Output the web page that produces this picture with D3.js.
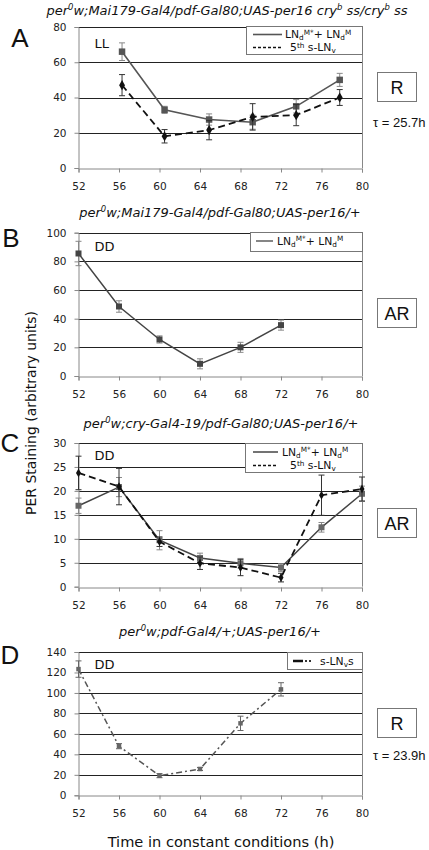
<!DOCTYPE html>
<html><head><meta charset="utf-8">
<script src="https://cdn.jsdelivr.net/npm/d3@7"></script>
<style>
body{margin:0;background:#fff;}
svg{display:block;}
</style></head>
<body>
<svg id="fig" width="429" height="850"></svg>
<script>
// ---------- DATA ----------
const xTickValues = [52, 56, 60, 64, 68, 72, 76, 80];

// Panel A (LL)
const aTimes = [56.3, 60.5, 64.9, 69.2, 73.5, 77.8];
const aLNd = [66, 33, 27.5, 26, 35, 50];
const aLNdErr = [5, 2, 3.2, 4, 3.8, 3.7];
const aSLNv = [47, 18, 21.5, 29, 30, 40];
const aSLNvErr = [6, 3.8, 5.5, 7.5, 6, 4.5];
const aYTicks = [0, 20, 40, 60, 80];

// Panel B (DD)
const bTimes = [52, 56, 60, 64, 68, 72];
const bLNd = [85.5, 48.5, 25.5, 8.5, 20, 35.5];
const bLNdErr = [8.5, 4, 2.5, 3.5, 3.5, 3.5];
const bYTicks = [0, 20, 40, 60, 80, 100];

// Panel C (DD)
const cTimes = [52, 56, 60, 64, 68, 72, 76, 80];
const cLNd = [16.9, 20.8, 9.7, 6.0, 4.9, 4.0, 12.4, 19.4];
const cLNdErr = [1.6, 2, 2, 1, 1, 0.8, 1, 1.6];
const cSLNv = [23.75, 20.9, 9.4, 4.9, 4.0, 1.9, 19.1, 20.4];
const cSLNvErr = [3.5, 3.8, 1, 1.3, 1.7, 0.9, 4.2, 2.5];
const cYTicks = [0, 5, 10, 15, 20, 25, 30];

// Panel D (DD)
const dTimes = [52, 56, 60, 64, 68, 72];
const dSLNvs = [123.3, 48, 19.2, 25.7, 70.3, 103.5];
const dSLNvsErr = [8, 2.5, 2, 1.5, 7, 6.5];
const dYTicks = [0, 20, 40, 60, 80, 100, 120, 140];

// Text
const titleA = ["per", "0", "w;Mai179-Gal4/pdf-Gal80;UAS-per16 cry", "b", " ss/cry", "b", " ss"];
const titleB = ["per", "0", "w;Mai179-Gal4/pdf-Gal80;UAS-per16/+"];
const titleC = ["per", "0", "w;cry-Gal4-19/pdf-Gal80;UAS-per16/+"];
const titleD = ["per", "0", "w;pdf-Gal4/+;UAS-per16/+"];

// ---------- DRAWING ----------
const svg = d3.select("#fig");
const LEFT = 78.5, RIGHT = 362;
const FONT = "'DejaVu Sans', Verdana, sans-serif";
const ARIAL = "'Liberation Sans', Arial, sans-serif";

function richText(g, parts, x, y, size, anchor) {
  const t = g.append("text").attr("x", x).attr("y", y)
    .attr("font-family", FONT).attr("font-style", "italic")
    .attr("font-size", size).attr("text-anchor", anchor).attr("fill", "#111");
  parts.forEach((p, i) => {
    const sup = i % 2 === 1;
    t.append("tspan").text(p)
      .attr("font-size", sup ? size * 0.65 : size)
      .attr("dy", sup ? -size * 0.35 : (i > 0 ? size * 0.35 : 0));
  });
}

function legendLabel(g, x, y, kind) {
  const t = g.append("text").attr("x", x).attr("y", y)
    .attr("font-family", FONT).attr("font-size", 10.8).attr("fill", "#111");
  const s = 7.3;
  if (kind === "lnd") {
    t.append("tspan").text("LN");
    t.append("tspan").text("d").attr("font-size", s).attr("dy", 2);
    t.append("tspan").text("M*").attr("font-size", s).attr("dy", -5.5);
    t.append("tspan").text("+ LN").attr("dy", 3.5);
    t.append("tspan").text("d").attr("font-size", s).attr("dy", 2);
    t.append("tspan").text("M").attr("font-size", s).attr("dy", -5.5);
  } else if (kind === "slnv") {
    t.append("tspan").text("5");
    t.append("tspan").text("th").attr("font-size", s).attr("dy", -3.5);
    t.append("tspan").text(" s-LN").attr("dy", 3.5);
    t.append("tspan").text("v").attr("font-size", s).attr("dy", 2);
  } else {
    t.append("tspan").text("s-LN");
    t.append("tspan").text("v").attr("font-size", s).attr("dy", 2);
    t.append("tspan").text("s").attr("dy", -2);
  }
}

function panel(cfg) {
  const g = svg.append("g");
  const x = d3.scaleLinear().domain([52, 80]).range([LEFT, RIGHT]);
  const y = d3.scaleLinear().domain([0, cfg.yMax]).range([cfg.bottom, cfg.top]);

  // gridlines
  g.append("g").selectAll("line").data(cfg.yTicks.filter(v => v > 0)).join("line")
    .attr("x1", LEFT).attr("x2", RIGHT)
    .attr("y1", d => Math.round(y(d)) + 0.5).attr("y2", d => Math.round(y(d)) + 0.5)
    .attr("stroke", "#222").attr("stroke-width", 1);
  // right border
  g.append("line").attr("x1", RIGHT + 0.5).attr("x2", RIGHT + 0.5)
    .attr("y1", y(cfg.yMax)).attr("y2", cfg.bottom).attr("stroke", "#888");

  // axes
  const yAxis = d3.axisLeft(y).tickValues(cfg.yTicks).tickSize(4).tickPadding(8).tickFormat(d3.format("d"));
  const ya = g.append("g").attr("transform", `translate(${LEFT},0)`).call(yAxis);
  const xAxis = d3.axisBottom(x).tickValues(xTickValues).tickSize(4).tickPadding(10).tickFormat(d3.format("d"));
  const xa = g.append("g").attr("transform", `translate(0,${Math.round(cfg.bottom) + 0.5})`).call(xAxis);
  [ya, xa].forEach(a => {
    a.selectAll(".domain").attr("stroke", "#888");
    a.selectAll(".tick line").attr("stroke", "#888");
    a.selectAll("text").attr("font-family", FONT).attr("font-size", 10.5).attr("fill", "#222");
  });

  // condition label
  g.append("text").attr("x", LEFT + 16).attr("y", y(cfg.yMax) + cfg.condDy)
    .attr("font-family", FONT).attr("font-size", 13).attr("fill", "#111").text(cfg.cond);

  // series
  cfg.series.forEach(s => {
    const pts = s.times.map((t, i) => ({ t, v: s.values[i], e: s.errs[i] }));
    const eb = g.append("g").attr("stroke", s.errColor).attr("stroke-width", 1);
    pts.forEach(p => {
      eb.append("line").attr("x1", x(p.t)).attr("x2", x(p.t)).attr("y1", y(p.v - p.e)).attr("y2", y(p.v + p.e));
      eb.append("line").attr("x1", x(p.t) - 3).attr("x2", x(p.t) + 3).attr("y1", y(p.v - p.e)).attr("y2", y(p.v - p.e));
      eb.append("line").attr("x1", x(p.t) - 3).attr("x2", x(p.t) + 3).attr("y1", y(p.v + p.e)).attr("y2", y(p.v + p.e));
    });
    g.append("path").datum(pts)
      .attr("d", d3.line().x(p => x(p.t)).y(p => y(p.v)))
      .attr("fill", "none").attr("stroke", s.color).attr("stroke-width", s.width)
      .attr("stroke-dasharray", s.dash || null);
    g.append("g").selectAll("path").data(pts).join("path")
      .attr("transform", p => `translate(${x(p.t)},${y(p.v)})`)
      .attr("d", d3.symbol().type(s.marker).size(s.markerSize))
      .attr("fill", s.markerColor);
  });

  // legend
  const L = cfg.legend;
  g.append("rect").attr("x", L.x + 0.5).attr("y", L.y + 0.5).attr("width", L.w).attr("height", L.h)
    .attr("fill", "#fff").attr("stroke", "#777");
  L.rows.forEach(r => {
    if (r.sym === "dashdot") {
      g.append("line").attr("x1", r.x1).attr("x2", r.x1 + 10).attr("y1", r.y).attr("y2", r.y)
        .attr("stroke", "#111").attr("stroke-width", 2.5);
      [r.x1 + 13, r.x1 + 17].forEach(cx => g.append("rect").attr("x", cx - 1).attr("y", r.y - 1)
        .attr("width", 2).attr("height", 2).attr("fill", "#333"));
    } else {
      g.append("line").attr("x1", r.x1).attr("x2", r.x2).attr("y1", r.y).attr("y2", r.y)
        .attr("stroke", r.color).attr("stroke-width", r.width).attr("stroke-dasharray", r.dash || null);
    }
    legendLabel(g, r.tx, r.y + 3.5, r.kind);
  });

  // rhythm box
  g.append("rect").attr("x", 377.5).attr("y", cfg.boxY + 0.5).attr("width", 39).attr("height", 29)
    .attr("fill", "#fff").attr("stroke", "#777");
  g.append("text").attr("x", 397).attr("y", cfg.boxY + 21.5).attr("text-anchor", "middle")
    .attr("font-family", ARIAL).attr("font-size", 18).attr("fill", "#111").text(cfg.rhythm);
  if (cfg.tau) {
    g.append("text").attr("x", 373).attr("y", cfg.tauY).attr("font-family", ARIAL)
      .attr("font-size", 13).attr("fill", "#111").text("τ = " + cfg.tau);
  }

  // panel letter
  g.append("text").attr("x", cfg.letterX).attr("y", cfg.letterY).attr("text-anchor", "middle")
    .attr("font-family", ARIAL).attr("font-size", 26).attr("fill", "#111").text(cfg.letter);

  richText(g, cfg.title, cfg.titleX, cfg.titleY, 13, "middle");
}

const solid = { color: "#555", width: 1.6, errColor: "#888", marker: d3.symbolSquare, markerSize: 42, markerColor: "#555" };
const dashed = { color: "#111", width: 1.8, dash: "7,4", errColor: "#333", marker: d3.symbolDiamond, markerSize: 30, markerColor: "#111" };

panel({
  letter: "A", letterX: 20, letterY: 47, title: titleA, titleX: 227, titleY: 15, cond: "LL", condDy: 21,
  top: 27, bottom: 168, yMax: 80, yTicks: aYTicks,
  series: [
    Object.assign({ times: aTimes, values: aLNd, errs: aLNdErr }, solid),
    Object.assign({ times: aTimes, values: aSLNv, errs: aSLNvErr }, dashed)
  ],
  legend: { x: 246, y: 26, w: 116, h: 28, rows: [
    { x1: 253, x2: 282, y: 34.5, color: "#555", width: 1.6, tx: 285, kind: "lnd" },
    { x1: 253, x2: 282, y: 47.5, color: "#111", width: 1.5, dash: "3,2", tx: 290, kind: "slnv" }
  ] },
  rhythm: "R", boxY: 72, tau: "25.7h", tauY: 127
});

panel({
  letter: "B", letterX: 11, letterY: 247, title: titleB, titleX: 220, titleY: 217, cond: "DD", condDy: 18,
  top: 232.7, bottom: 376, yMax: 100, yTicks: bYTicks,
  series: [
    Object.assign({ times: bTimes, values: bLNd, errs: bLNdErr }, solid, { color: "#444", width: 1.5, markerColor: "#444", markerSize: 36 })
  ],
  legend: { x: 250, y: 232, w: 112, h: 19, rows: [
    { x1: 256, x2: 273, y: 241, color: "#444", width: 1.3, tx: 277, kind: "lnd" }
  ] },
  rhythm: "AR", boxY: 298
});

panel({
  letter: "C", letterX: 10, letterY: 452, title: titleC, titleX: 221, titleY: 428, cond: "DD", condDy: 17,
  top: 443, bottom: 586.7, yMax: 30, yTicks: cYTicks,
  series: [
    Object.assign({ times: cTimes, values: cLNd, errs: cLNdErr }, solid, { color: "#444", width: 1.5, markerColor: "#666", markerSize: 36 }),
    Object.assign({ times: cTimes, values: cSLNv, errs: cSLNvErr }, dashed, { markerSize: 22 })
  ],
  legend: { x: 245, y: 443, w: 117, h: 29, rows: [
    { x1: 253, x2: 278, y: 452, color: "#444", width: 1.5, tx: 282, kind: "lnd" },
    { x1: 253, x2: 278, y: 465.5, color: "#111", width: 1.5, dash: "3,2", tx: 290, kind: "slnv" }
  ] },
  rhythm: "AR", boxY: 508
});

panel({
  letter: "D", letterX: 10, letterY: 664, title: titleD, titleX: 220, titleY: 636, cond: "DD", condDy: 17,
  top: 652, bottom: 795.3, yMax: 140, yTicks: dYTicks,
  series: [
    { times: dTimes, values: dSLNvs, errs: dSLNvsErr, color: "#555", width: 1.5, dash: "6,3,2,3", errColor: "#666",
      marker: d3.symbolSquare, markerSize: 20, markerColor: "#666" }
  ],
  legend: { x: 287, y: 652, w: 75, h: 17, rows: [
    { sym: "dashdot", x1: 293, y: 661, tx: 320, kind: "slnvs" }
  ] },
  rhythm: "R", boxY: 708, tau: "23.9h", tauY: 760
});

// axis titles
svg.append("text").attr("transform", "translate(36,413) rotate(-90)").attr("text-anchor", "middle")
  .attr("font-family", FONT).attr("font-size", 14).attr("fill", "#111").text("PER Staining (arbitrary units)");
svg.append("text").attr("x", 221).attr("y", 847).attr("text-anchor", "middle")
  .attr("font-family", FONT).attr("font-size", 14.6).attr("fill", "#111").text("Time in constant conditions (h)");
</script>
</body></html>
